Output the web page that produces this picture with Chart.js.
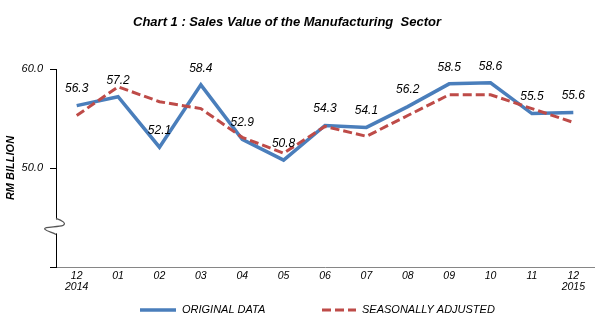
<!DOCTYPE html>
<html>
<head>
<meta charset="utf-8">
<title>Sales Value of the Manufacturing Sector</title>
<script src="https://cdn.jsdelivr.net/npm/chart.js@4.4.0/dist/chart.umd.min.js"></script>
<style>
    html, body { margin: 0; padding: 0; background: #fff; }
    #grafico { display: block; }
</style>
</head>
<body>
<canvas id="grafico" width="614" height="324"></canvas>
<script>
// Datos: ventas mensuales (RM mil millones), dic 2014 - dic 2015
const meses = [['12', '2014'], '01', '02', '03', '04', '05', '06', '07', '08', '09', '10', '11', ['12', '2015']];
const datosOriginales = [56.3, 57.2, 52.1, 58.4, 52.9, 50.8, 54.3, 54.1, 56.2, 58.5, 58.6, 55.5, 55.6];
const datosAjustados = [55.3, 58.2, 56.7, 56.0, 53.1, 51.5, 54.2, 53.2, 55.3, 57.4, 57.4, 56.0, 54.6];
const ejeMin = 40;
const ejeMax = 60;
const ejeCorte = 44;   // valor donde va el simbolo de corte del eje

const titulo = 'Chart 1 : Sales Value of the Manufacturing  Sector';
const tituloEje = 'RM BILLION';

const FUENTE = "'Liberation Sans', Arial, sans-serif";
const AZUL = '#4a7ebb';
const ROJO = '#be4b48';

// Titulo arriba del grafico
const pluginTitulo = {
    id: 'tituloGrafico',
    afterDraw(chart) {
        const ctx = chart.ctx;
        ctx.save();
        ctx.font = 'italic bold 13px ' + FUENTE;
        ctx.fillStyle = '#000';
        ctx.textAlign = 'center';
        ctx.textBaseline = 'middle';
        ctx.fillText(titulo, 287, 22);
        ctx.restore();
    }
};

// Etiquetas de valor sobre la serie original
const pluginEtiquetas = {
    id: 'etiquetasValor',
    afterDatasetsDraw(chart) {
        const ctx = chart.ctx;
        const meta = chart.getDatasetMeta(0);
        const valores = chart.data.datasets[0].data;
        ctx.save();
        ctx.font = 'italic 12px ' + FUENTE;
        ctx.fillStyle = '#000';
        ctx.textAlign = 'center';
        ctx.textBaseline = 'middle';
        meta.data.forEach((punto, i) => {
            ctx.fillText(valores[i].toFixed(1), punto.x, punto.y - 16.5);
        });
        ctx.restore();
    }
};

// Simbolo de corte en el eje Y
const pluginCorte = {
    id: 'corteEje',
    afterDraw(chart) {
        const ctx = chart.ctx;
        const x = chart.chartArea.left;
        const y = chart.scales.y.getPixelForValue(ejeCorte);
        ctx.save();
        ctx.fillStyle = '#fff';
        ctx.fillRect(x - 2, y - 8, 4, 14);
        ctx.strokeStyle = '#555';
        ctx.lineWidth = 1.2;
        ctx.beginPath();
        ctx.moveTo(x, y - 9);
        ctx.bezierCurveTo(x + 6, y - 7, x + 11, y - 4, x + 7, y - 2);
        ctx.bezierCurveTo(x + 2, y, x - 14, y - 1, x - 11, y + 2);
        ctx.bezierCurveTo(x - 9, y + 4, x - 3, y + 5, x, y + 7);
        ctx.stroke();
        ctx.restore();
    }
};

// Leyenda dibujada a mano debajo del eje X
const pluginLeyenda = {
    id: 'leyendaManual',
    afterDraw(chart) {
        const ctx = chart.ctx;
        const entradas = [
            { ds: chart.data.datasets[0], x: 140, ancho: 36 },
            { ds: chart.data.datasets[1], x: 322, ancho: 34 }
        ];
        const y = 310;
        ctx.save();
        ctx.font = 'italic 11px ' + FUENTE;
        ctx.textBaseline = 'middle';
        ctx.textAlign = 'left';
        entradas.forEach(e => {
            ctx.strokeStyle = e.ds.borderColor;
            ctx.lineWidth = e.ds.borderWidth;
            ctx.setLineDash(e.ds.borderDash || []);
            ctx.beginPath();
            ctx.moveTo(e.x, y);
            ctx.lineTo(e.x + e.ancho, y);
            ctx.stroke();
            ctx.setLineDash([]);
            ctx.fillStyle = '#000';
            ctx.fillText(e.ds.label, e.x + e.ancho + 6, y);
        });
        ctx.restore();
    }
};

const grafico = new Chart(document.getElementById('grafico'), {
    type: 'line',
    data: {
        labels: meses,
        datasets: [
            {
                label: 'ORIGINAL DATA',
                data: datosOriginales,
                borderColor: AZUL,
                borderWidth: 3.5,
                pointRadius: 0,
                tension: 0,
                order: 1
            },
            {
                label: 'SEASONALLY ADJUSTED',
                data: datosAjustados,
                borderColor: ROJO,
                borderWidth: 3,
                borderDash: [9, 4],
                pointRadius: 0,
                tension: 0,
                order: 0
            }
        ]
    },
    options: {
        responsive: false,
        animation: false,
        devicePixelRatio: 1,
        layout: {
            padding: { top: 69, right: 20, bottom: 0, left: 0 }
        },
        plugins: {
            legend: { display: false },
            title: { display: false },
            tooltip: { enabled: false }
        },
        scales: {
            x: {
                offset: true,
                afterFit(scale) { scale.height = 57; },
                grid: { display: false, drawTicks: false },
                border: { display: true, color: '#868686', width: 1 },
                ticks: {
                    color: '#000',
                    padding: 3,
                    maxRotation: 0,
                    autoSkip: false,
                    font: { family: FUENTE, size: 10.5, style: 'italic', lineHeight: 1.1 }
                }
            },
            y: {
                min: ejeMin,
                max: ejeMax,
                afterFit(scale) { scale.width = 56; },
                grid: { display: true, drawOnChartArea: false, drawTicks: true, tickLength: 6, color: '#000' },
                border: { display: true, color: '#000', width: 1 },
                ticks: {
                    stepSize: 10,
                    padding: 7,
                    color: '#000',
                    font: { family: FUENTE, size: 11, style: 'italic' },
                    callback: v => (v === ejeMin ? '' : v.toFixed(1))
                },
                title: {
                    display: true,
                    text: tituloEje,
                    color: '#000',
                    padding: { top: 4, bottom: 0 },
                    font: { family: FUENTE, size: 11, style: 'italic', weight: 'bold' }
                }
            }
        }
    },
    plugins: [pluginEtiquetas, pluginCorte, pluginTitulo, pluginLeyenda]
});
</script>
</body>
</html>
